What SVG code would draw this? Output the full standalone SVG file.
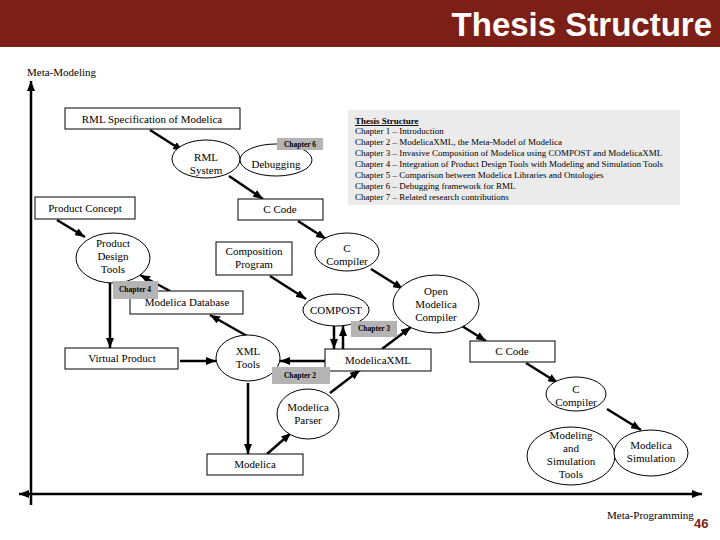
<svg xmlns="http://www.w3.org/2000/svg" width="720" height="540" viewBox="0 0 720 540">
<style>
.n{fill:#fff;stroke:#000;stroke-width:1}
.t{font-family:"Liberation Serif","Times New Roman",serif;font-size:11px;fill:#000;text-anchor:middle}
.c{stroke:#000;stroke-width:2.5;fill:none;marker-end:url(#ah)}
.ch{fill:#b4b4b4}
.cht{font-family:"Liberation Serif",serif;font-size:7.5px;font-weight:bold;fill:#000;text-anchor:middle}
.info{font-family:"Liberation Serif",serif;font-size:9px;fill:#000}
</style>
<defs>
<marker id="ah" markerUnits="userSpaceOnUse" markerWidth="10" markerHeight="8" refX="10" refY="4" orient="auto">
<path d="M0,0 L10,4 L0,8 z" fill="#000"/>
</marker>
</defs>
<rect width="720" height="540" fill="#fff"/>
<g id="header">
<rect x="0" y="0" width="720" height="47" fill="#7b1f17"/>
<text x="712" y="36" font-family="'Liberation Sans',Arial,sans-serif" font-size="33" font-weight="bold" fill="#fff" text-anchor="end">Thesis Structure</text>
</g>
<g id="axes">
<line x1="31" y1="505" x2="31" y2="81" class="c"/>
<line x1="31" y1="494" x2="19" y2="494" class="c"/>
<line x1="31" y1="494" x2="702" y2="494" class="c"/>
<text x="27" y="76" class="t" style="text-anchor:start">Meta-Modeling</text>
<text x="607" y="519" class="t" style="text-anchor:start">Meta-Programming</text>
<text x="694" y="528" font-family="'Liberation Sans',Arial,sans-serif" font-size="13" font-weight="bold" fill="#7b1f17">46</text>
</g>
<g id="connectors">
<line x1="150" y1="130" x2="183" y2="151" class="c"/>
<line x1="229" y1="176" x2="263" y2="199" class="c"/>
<line x1="57" y1="220" x2="85" y2="237" class="c"/>
<line x1="298" y1="221" x2="326" y2="239" class="c"/>
<line x1="270" y1="276" x2="306" y2="299" class="c"/>
<line x1="371" y1="269" x2="403" y2="289" class="c"/>
<line x1="170" y1="291" x2="140" y2="275" class="c"/>
<line x1="247" y1="336" x2="210" y2="315" class="c"/>
<line x1="110" y1="283" x2="110" y2="348" class="c"/>
<line x1="180" y1="361" x2="216" y2="361" class="c"/>
<line x1="325" y1="361" x2="280" y2="361" class="c"/>
<line x1="334" y1="326" x2="334" y2="349" class="c"/>
<line x1="343" y1="349" x2="343" y2="326" class="c"/>
<line x1="382" y1="349" x2="411" y2="327" class="c"/>
<line x1="462" y1="326" x2="486" y2="341" class="c"/>
<line x1="526" y1="363" x2="558" y2="383" class="c"/>
<line x1="607" y1="409" x2="641" y2="430" class="c"/>
<line x1="248" y1="383" x2="248" y2="454" class="c"/>
<line x1="267" y1="454" x2="291" y2="433" class="c"/>
<line x1="330" y1="393" x2="360" y2="370" class="c"/>
</g>
<g id="info">
<rect x="348" y="110" width="332" height="95" fill="#ebebeb"/>
<text class="info" x="355" y="124" font-weight="bold" text-decoration="underline">Thesis Structure</text>
<text class="info" x="355" y="134">Chapter 1 – Introduction</text>
<text class="info" x="355" y="145">Chapter 2 – ModelicaXML, the Meta-Model of  Modelica</text>
<text class="info" x="355" y="156">Chapter 3 – Invasive Composition of Modelica using COMPOST and ModelicaXML</text>
<text class="info" x="355" y="167">Chapter 4 – Integration of Product Design Tools with Modeling and Simulation Tools</text>
<text class="info" x="355" y="178">Chapter 5 – Comparison between Modelica Libraries and Ontologies</text>
<text class="info" x="355" y="189">Chapter 6 – Debugging framework for RML</text>
<text class="info" x="355" y="200">Chapter 7 – Related research contributions</text>
</g>
<g id="rmlspec"><rect class="n" x="65" y="108" width="175" height="21"/><text class="t" x="152" y="123">RML Specification of Modelica</text></g>
<g id="rmlsystem"><ellipse class="n" cx="206" cy="159" rx="34" ry="19"/><text class="t" x="206" y="161">RML</text><text class="t" x="206" y="174">System</text></g>
<g id="debugging"><ellipse class="n" cx="276" cy="160" rx="36" ry="16"/><text class="t" x="276" y="168">Debugging</text></g>
<g id="productconcept"><rect class="n" x="35" y="197" width="100" height="22"/><text class="t" x="85" y="212">Product Concept</text></g>
<g id="ccode1"><rect class="n" x="238" y="199" width="85" height="21"/><text class="t" x="280" y="213">C Code</text></g>
<g id="pdt"><ellipse class="n" cx="113" cy="258" rx="37" ry="25"/><text class="t" x="113" y="247">Product</text><text class="t" x="113" y="260">Design</text><text class="t" x="113" y="273">Tools</text></g>
<g id="composition"><rect class="n" x="216" y="242" width="76" height="33"/><text class="t" x="254" y="255">Composition</text><text class="t" x="254" y="268">Program</text></g>
<g id="ccompiler1"><ellipse class="n" cx="347" cy="252" rx="32" ry="19"/><text class="t" x="347" y="252">C</text><text class="t" x="347" y="265">Compiler</text></g>
<g id="modelicadb"><rect class="n" x="130" y="291" width="113" height="23"/><text class="t" x="187" y="306">Modelica Database</text></g>
<g id="compost"><ellipse class="n" cx="336" cy="310" rx="33" ry="16"/><text class="t" x="336" y="314">COMPOST</text></g>
<g id="omc"><ellipse class="n" cx="436" cy="304" rx="43" ry="29"/><text class="t" x="436" y="295">Open</text><text class="t" x="436" y="308">Modelica</text><text class="t" x="436" y="321">Compiler</text></g>
<g id="ccode2"><rect class="n" x="470" y="341" width="85" height="21"/><text class="t" x="512" y="355">C Code</text></g>
<g id="modelicaxml"><rect class="n" x="325" y="349" width="106" height="22"/><text class="t" x="378" y="364">ModelicaXML</text></g>
<g id="xmltools"><ellipse class="n" cx="248" cy="358" rx="32" ry="23"/><text class="t" x="248" y="355">XML</text><text class="t" x="248" y="368">Tools</text></g>
<g id="virtualproduct"><rect class="n" x="65" y="348" width="113" height="21"/><text class="t" x="122" y="362">Virtual Product</text></g>
<g id="parser"><ellipse class="n" cx="308" cy="414" rx="31" ry="25"/><text class="t" x="308" y="411">Modelica</text><text class="t" x="308" y="424">Parser</text></g>
<g id="modelica"><rect class="n" x="207" y="454" width="96" height="21"/><text class="t" x="255" y="468">Modelica</text></g>
<g id="ccompiler2"><ellipse class="n" cx="576" cy="394" rx="30" ry="17"/><text class="t" x="576" y="393">C</text><text class="t" x="576" y="406">Compiler</text></g>
<g id="mstools"><ellipse class="n" cx="571" cy="456" rx="44" ry="29"/><text class="t" x="571" y="439">Modeling</text><text class="t" x="571" y="452">and</text><text class="t" x="571" y="465">Simulation</text><text class="t" x="571" y="478">Tools</text></g>
<g id="msim"><ellipse class="n" cx="651" cy="453" rx="37" ry="23"/><text class="t" x="651" y="449">Modelica</text><text class="t" x="651" y="462">Simulation</text></g>
<g id="chapters">
<rect class="ch" x="277" y="138" width="46" height="12"/><text class="cht" x="300" y="147">Chapter 6</text>
<rect class="ch" x="113" y="281" width="45" height="18"/><text class="cht" x="135" y="292">Chapter 4</text>
<rect class="ch" x="351" y="321" width="46" height="16"/><text class="cht" x="374" y="331">Chapter 3</text>
<rect class="ch" x="272" y="367" width="58" height="17"/><text class="cht" x="300" y="378">Chapter 2</text>
</g>
</svg>
